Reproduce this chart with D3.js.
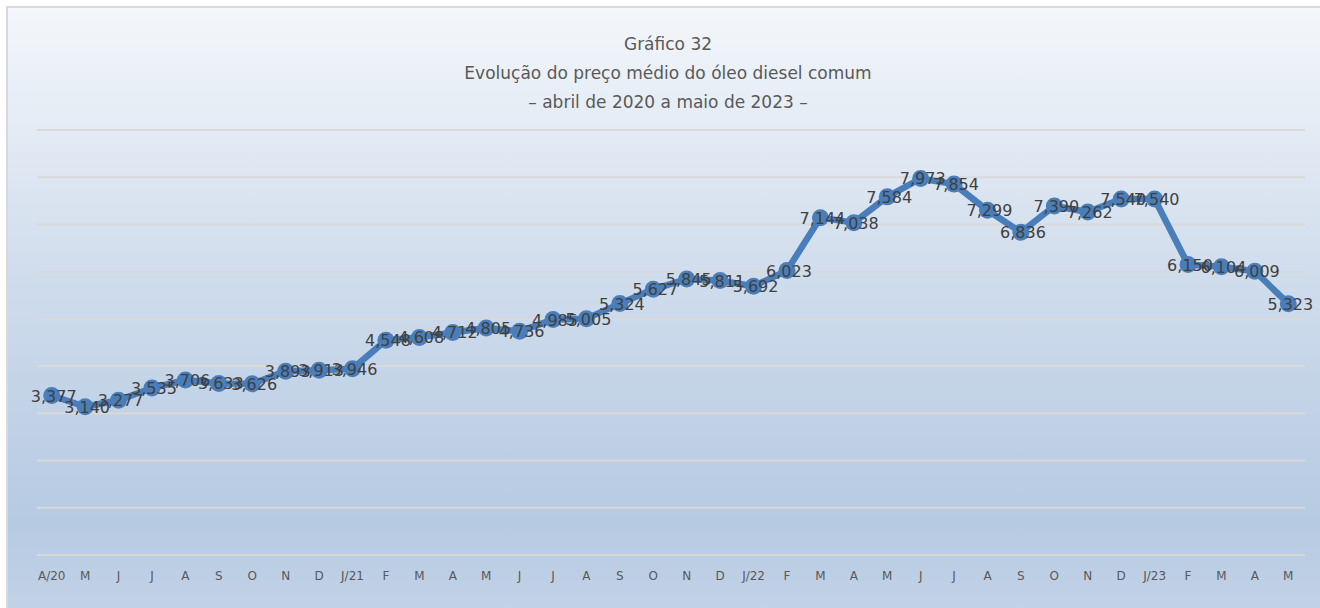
<!DOCTYPE html>
<html>
<head>
    <meta charset="utf-8">
    <title>Gráfico 32</title>
    <script src="https://d3js.org/d3.v7.min.js"></script>
    <style>
        body { margin: 0; background: #fff; }
    </style>
</head>
<body>
    <div id="chart"></div>
    <script>
    // months from April 2020 to May 2023
    let months = ["A/20","M","J","J","A","S","O","N","D","J/21","F","M","A","M","J","J","A","S","O","N","D",
                  "J/22","F","M","A","M","J","J","A","S","O","N","D","J/23","F","M","A","M"];
    // average price (R$/litre)
    let prices = [3.377,3.140,3.277,3.535,3.706,3.633,3.626,3.893,3.913,3.946,4.548,4.608,4.712,4.805,4.736,
                  4.985,5.005,5.324,5.627,5.845,5.811,5.692,6.023,7.144,7.038,7.584,7.973,7.854,7.299,6.836,
                  7.390,7.262,7.540,7.540,6.150,6.104,6.009,5.323];
    let titleLines = ["Gráfico 32", "Evolução do preço médio do óleo diesel comum", "– abril de 2020 a maio de 2023 –"];
    let yTicks = [0,1,2,3,4,5,6,7,8,9];

    let width = 1320, height = 608;
    let keys = months.map((m, i) => i);

    let svg = d3.select("#chart").append("svg")
        .attr("width", width)
        .attr("height", height);

    // background gradient like the spreadsheet chart
    let defs = svg.append("defs");
    let grad = defs.append("linearGradient")
        .attr("id", "bg").attr("x1", 0).attr("y1", 0).attr("x2", 0).attr("y2", 1);
    grad.append("stop").attr("offset", "0%").attr("stop-color", "#f4f7fb");
    grad.append("stop").attr("offset", "45%").attr("stop-color", "#cfdcec");
    grad.append("stop").attr("offset", "85%").attr("stop-color", "#b6cae2");
    grad.append("stop").attr("offset", "100%").attr("stop-color", "#c3d3e7");

    svg.append("rect")
        .attr("x", 7).attr("y", 7).attr("width", width).attr("height", height)
        .attr("fill", "url(#bg)")
        .attr("stroke", "#d9d9d9").attr("stroke-width", 2);

    // titles
    svg.selectAll(".title")
        .data(titleLines)
        .enter()
        .append("text")
        .attr("class", "title")
        .attr("x", 668)
        .attr("y", (d, i) => 50 + i * 29)
        .attr("text-anchor", "middle")
        .style("font-family", "'DejaVu Sans', sans-serif")
        .style("font-size", "17px")
        .style("fill", "#595959")
        .text(d => d);

    let x = d3.scaleBand()
        .domain(keys)
        .range([35, 1305]);

    let y = d3.scaleLinear()
        .domain([0, 9])
        .range([555, 130]);

    // gridlines
    svg.append("g")
        .selectAll("line")
        .data(yTicks)
        .enter()
        .append("line")
        .attr("x1", 37).attr("x2", 1305)
        .attr("y1", d => y(d)).attr("y2", d => y(d))
        .attr("stroke", "#d9d9d9")
        .attr("stroke-width", 2);

    // x axis labels
    let xAxis = svg.append("g")
        .attr("transform", "translate(0,568)")
        .call(d3.axisBottom(x).tickSize(0).tickFormat(i => months[i]));
    xAxis.select(".domain").remove();
    xAxis.selectAll("text")
        .style("font-family", "'DejaVu Sans', sans-serif")
        .style("font-size", "12px")
        .style("fill", "#595959");

    let cx = i => x(i) + x.bandwidth() / 2;

    // the line
    let line = d3.line()
        .x((d, i) => cx(i))
        .y(d => y(d));

    svg.append("path")
        .datum(prices)
        .attr("d", line)
        .attr("fill", "none")
        .attr("stroke", "#4a7ebb")
        .attr("stroke-width", 6.5)
        .attr("stroke-linejoin", "round");

    svg.selectAll(".dot")
        .data(prices)
        .enter()
        .append("circle")
        .attr("class", "dot")
        .attr("cx", (d, i) => cx(i))
        .attr("cy", d => y(d))
        .attr("r", 8.5)
        .attr("fill", "#4a7ebb");

    // data labels, centred on the markers
    svg.selectAll(".lbl")
        .data(prices)
        .enter()
        .append("text")
        .attr("class", "lbl")
        .attr("x", (d, i) => cx(i) + 2)
        .attr("y", d => y(d) + 6)
        .attr("text-anchor", "middle")
        .style("font-family", "'DejaVu Sans', sans-serif")
        .style("font-size", "16px")
        .style("fill", "#404040")
        .text(d => d3.format(".3f")(d).replace(".", ","));
    </script>
</body>
</html>
